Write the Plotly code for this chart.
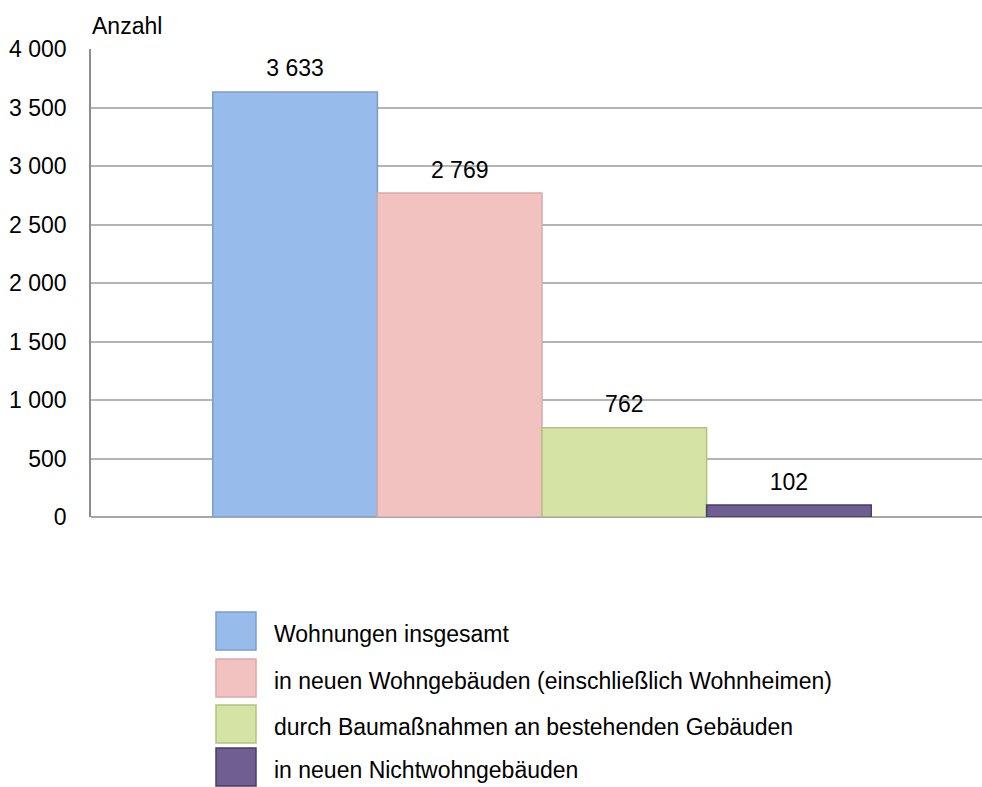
import plotly.graph_objects as go

series_names = [
    "Wohnungen insgesamt",
    "in neuen Wohngebäuden (einschließlich Wohnheimen)",
    "durch Baumaßnahmen an bestehenden Gebäuden",
    "in neuen Nichtwohngebäuden",
]
values = [3633, 2769, 762, 102]
colors = ["#97BCEC", "#F2C2C1", "#D5E3A5", "#6F5E92"]
edge_colors = ["#7B9CCB", "#D9AAA9", "#B3C283", "#4A3D66"]
category = [""]
y_ticks = [0, 500, 1000, 1500, 2000, 2500, 3000, 3500, 4000]

W, H = 1000, 787
L, T = 91, 49
R = W - 993
B = H - 517
font = "Liberation Sans, Arial, sans-serif"
FS = 23

fig = go.Figure()
for i, (name, v, c, ec) in enumerate(zip(series_names, values, colors, edge_colors)):
    fig.add_trace(go.Bar(
        x=category, y=[v], name=name,
        marker=dict(color=c, line=dict(color=ec, width=1.5)),
        showlegend=False, offsetgroup=str(i),
    ))
for i, (name, v) in enumerate(zip(series_names, values)):
    fig.add_trace(go.Scatter(
        x=category, y=[v], name=name, mode="markers+text",
        marker=dict(size=14, opacity=0), text=[f"{v:,}".replace(",", " ")],
        textposition="top center", offsetgroup=str(i),
        textfont=dict(size=FS, color="#000000", family=font),
        cliponaxis=False, showlegend=False, hoverinfo="skip",
    ))

pw, ph = W - L - R, H - T - B
def px_x(px):
    return (px - L) / pw
def px_y(py):
    return (H - B - py) / ph

shapes = []
annotations = []
row_centers = [631, 678, 724, 767]
for name, c, ec, cy in zip(series_names, colors, edge_colors, row_centers):
    shapes.append(dict(type="rect", xref="paper", yref="paper",
                       x0=px_x(216), x1=px_x(256), y0=px_y(cy + 19), y1=px_y(cy - 19),
                       fillcolor=c, line=dict(color=ec, width=1.5)))
    annotations.append(dict(xref="paper", yref="paper", x=px_x(272), y=px_y(cy + 3),
                            text=name, showarrow=False, xanchor="left", yanchor="middle",
                            font=dict(size=FS, color="#000000", family=font)))

annotations.append(dict(xref="paper", yref="paper", x=px_x(90), y=px_y(26),
                        text="Anzahl", showarrow=False, xanchor="left", yanchor="middle",
                        font=dict(size=FS, color="#000000", family=font)))

fig.update_layout(
    width=W, height=H,
    margin=dict(l=L, r=R, t=T, b=B),
    paper_bgcolor="white", plot_bgcolor="white",
    barmode="group", bargap=0.27, bargroupgap=0,
    scattermode="group", scattergap=0.27,
    separators=", ",
    font=dict(family=font, size=FS, color="#000000"),
    shapes=shapes, annotations=annotations,
    showlegend=False,
)
fig.update_yaxes(
    range=[0, 4000], tickvals=y_ticks, tickformat=",d",
    showgrid=True, gridcolor="#B4B4B4", gridwidth=1.5,
    showline=True, linecolor="#8C8C8C", linewidth=1.5,
    zeroline=True, zerolinecolor="#A6A6A6", zerolinewidth=1.5,
    ticks="", ticklabelstandoff=18,
    tickfont=dict(size=FS, family=font, color="#000000"),
)
fig.update_xaxes(showticklabels=False, showgrid=False, showline=False, zeroline=False)

fig.write_html(
    "out.html",
    config={"displayModeBar": False},
    post_script="document.body.style.margin='0';document.body.style.overflow='hidden';"
                "document.documentElement.style.overflow='hidden';",
)
